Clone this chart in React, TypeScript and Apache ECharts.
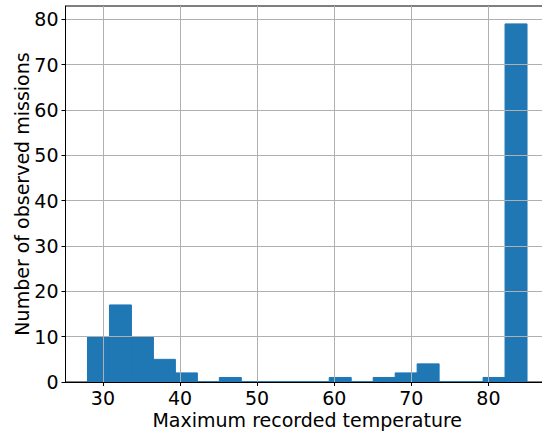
import React, { useEffect, useRef } from "react";
import * as echarts from "echarts";

// Histogram definition (20 equal-width bins between binMin and binMax)
const binMin = 28;
const binMax = 85;
const counts = [10, 17, 10, 5, 2, 0, 1, 0, 0, 0, 0, 1, 0, 1, 2, 4, 0, 0, 1, 79];
const xTicks = [30, 40, 50, 60, 70, 80];
const yTicks = [0, 10, 20, 30, 40, 50, 60, 70, 80];
const xTitle = "Maximum recorded temperature";
const yTitle = "Number of observed missions";

export default function App() {
  const ref = useRef<HTMLDivElement>(null);
  useEffect(() => {
    const chart = echarts.init(ref.current!, null, { renderer: "svg" });
    const n = counts.length;
    const w = (binMax - binMin) / n;
    const data = counts.map((c, i) => [binMin + i * w, binMin + (i + 1) * w, c]);
    const span = binMax - binMin;
    const xMin = binMin - 0.05 * span;
    const xMax = binMax + 0.05 * span;
    const yMax = Math.max(...counts) * 1.05;
    const font = "DejaVu Sans";
    const fs = 19;
    chart.setOption({
      animation: false,
      grid: {
        left: 65.5,
        top: 6,
        width: 483.5,
        height: 376,
        containLabel: false,
        outerBoundsMode: "none",
        show: true,
        borderColor: "#000",
        borderWidth: 1,
        backgroundColor: "transparent",
      },
      xAxis: {
        type: "value",
        min: xMin,
        max: xMax,
        z: 5,
        name: xTitle,
        nameLocation: "middle",
        nameGap: 28,
        nameMoveOverlap: false,
        nameTextStyle: { fontFamily: font, fontSize: fs, color: "#000" },
        axisLine: { show: true, lineStyle: { color: "#000", width: 1 } },
        axisTick: { show: true, inside: false, length: 4, customValues: xTicks, lineStyle: { color: "#000" } },
        axisLabel: { customValues: xTicks, margin: 6, fontFamily: font, fontSize: fs, color: "#000" },
        splitLine: { show: true, lineStyle: { color: "#b0b0b0", width: 1 } },
      },
      yAxis: {
        type: "value",
        min: 0,
        max: yMax,
        z: 5,
        name: yTitle,
        nameLocation: "middle",
        nameGap: 34,
        nameMoveOverlap: false,
        nameTextStyle: { fontFamily: font, fontSize: fs, color: "#000" },
        axisLine: { show: true, lineStyle: { color: "#000", width: 1 } },
        axisTick: { show: true, inside: false, length: 4, customValues: yTicks, lineStyle: { color: "#000" } },
        axisLabel: { customValues: yTicks, margin: 7, fontFamily: font, fontSize: fs, color: "#000" },
        splitLine: { show: true, lineStyle: { color: "#b0b0b0", width: 1 } },
      },
      series: [
        {
          type: "custom",
          data,
          encode: { x: [0, 1], y: 2 },
          renderItem: (params: any, api: any) => {
            const p0 = api.coord([api.value(0), api.value(2)]);
            const p1 = api.coord([api.value(1), 0]);
            return {
              type: "rect",
              shape: { x: p0[0], y: p0[1], width: p1[0] - p0[0], height: p1[1] - p0[1] },
              style: { fill: "#1f77b4", stroke: "#1f77b4", lineWidth: 1 },
            };
          },
        },
      ],
    });
    return () => chart.dispose();
  }, []);
  return (
    <div
      ref={ref}
      style={{ position: "fixed", left: 0, top: 0, width: 542, height: 435, background: "#fff" }}
    />
  );
}
